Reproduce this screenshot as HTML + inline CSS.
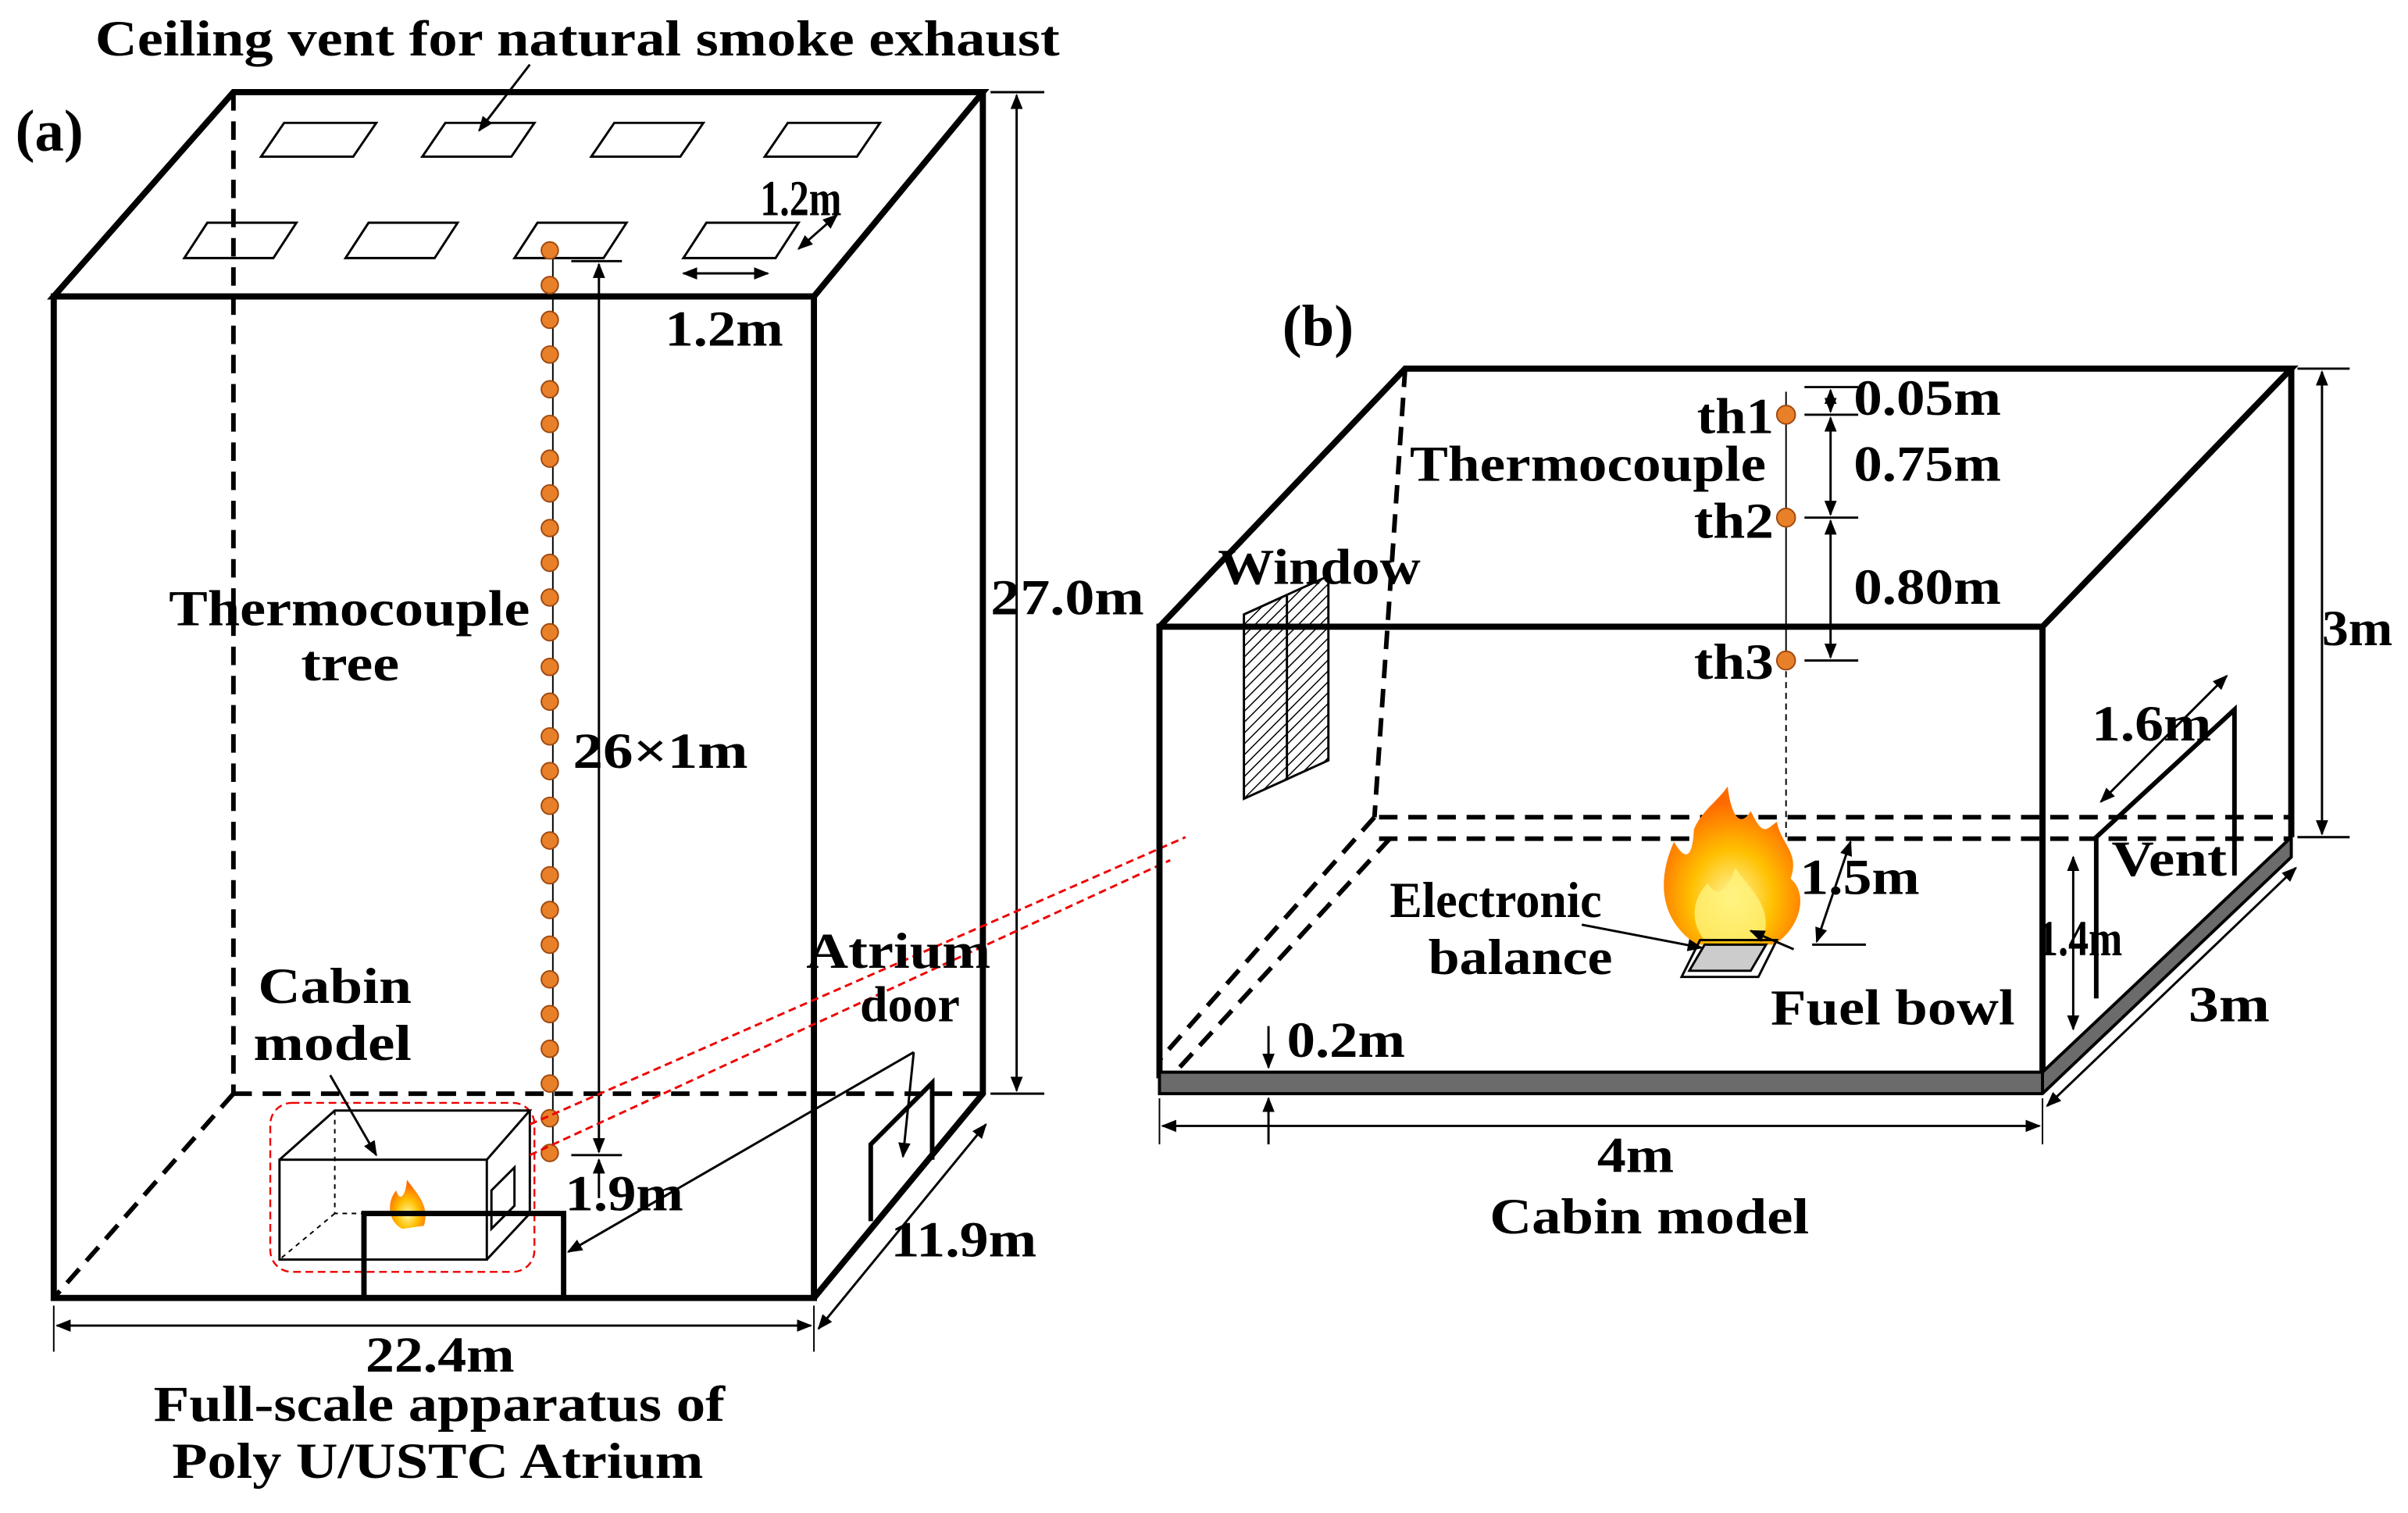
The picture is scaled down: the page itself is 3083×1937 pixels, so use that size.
<!DOCTYPE html>
<html><head><meta charset="utf-8"><style>
html,body{margin:0;padding:0;background:#fff;}
svg{display:block;}
text{font-family:"Liberation Serif",serif;font-weight:bold;fill:#000;}
</style></head><body>
<svg width="3083" height="1937" viewBox="0 0 1568 985" preserveAspectRatio="none" xmlns="http://www.w3.org/2000/svg">
<defs>
<marker id="ar" markerWidth="10" markerHeight="10" refX="9" refY="5" orient="auto-start-reverse" markerUnits="userSpaceOnUse"><path d="M0,1 L10,5 L0,9 z" fill="#000"/></marker>
<pattern id="hatch" width="5" height="5" patternUnits="userSpaceOnUse" patternTransform="rotate(45)"><line x1="0" y1="0" x2="0" y2="5" stroke="#000" stroke-width="1.5"/></pattern>
<radialGradient id="fire" cx="50%" cy="70%" r="60%"><stop offset="0" stop-color="#fff6a0"/><stop offset="0.5" stop-color="#ffc000"/><stop offset="1" stop-color="#ff6a00"/></radialGradient>
</defs>
<rect width="1568" height="985" fill="#fff"/>

<!-- (a) -->
<text x="62" y="36" font-size="33" textLength="628" lengthAdjust="spacingAndGlyphs">Ceiling vent for natural smoke exhaust</text>
<text x="10" y="98" font-size="38">(a)</text>
<line x1="345" y1="42" x2="312" y2="85" stroke="#000" stroke-width="1.5" marker-end="url(#ar)"/>
<g fill="none" stroke="#000" stroke-width="4">
<polygon points="35,193 152,60 640,60 530,193"/>
<rect x="35" y="193" width="495" height="652"/>
<polyline points="530,845 640,712 640,60"/>
</g>
<g fill="none" stroke="#000" stroke-width="3" stroke-dasharray="12,7">
<line x1="152" y1="60" x2="152" y2="712"/>
<line x1="152" y1="712" x2="640" y2="712"/>
<line x1="152" y1="712" x2="35" y2="845"/>
</g>
<g fill="none" stroke="#000" stroke-width="1.5">
<polygon points="185,80 245,80 230,102 170,102"/>
<polygon points="290,80 348,80 333,102 275,102"/>
<polygon points="400,80 458,80 443,102 385,102"/>
<polygon points="513,80 573,80 558,102 498,102"/>
<polygon points="135,145 193,145 178,168 120,168"/>
<polygon points="240,145 298,145 283,168 225,168"/>
<polygon points="350,145 408,145 393,168 335,168"/>
<polygon points="460,145 520,145 505,168 445,168"/>
</g>
<line x1="520" y1="162" x2="545" y2="140" stroke="#000" stroke-width="1.5" marker-start="url(#ar)" marker-end="url(#ar)"/>
<text x="495" y="140" font-size="33" textLength="53" lengthAdjust="spacingAndGlyphs">1.2m</text>
<line x1="445" y1="178" x2="500" y2="178" stroke="#000" stroke-width="1.5" marker-start="url(#ar)" marker-end="url(#ar)"/>
<text x="433" y="225" font-size="33" textLength="77" lengthAdjust="spacingAndGlyphs">1.2m</text>
<line x1="360" y1="165" x2="360" y2="755" stroke="#000" stroke-width="1"/>
<g fill="#e8802a" stroke="#a04a10" stroke-width="1">
<circle cx="358" cy="163" r="5.5"/><circle cx="358" cy="185.6" r="5.5"/><circle cx="358" cy="208.2" r="5.5"/><circle cx="358" cy="230.8" r="5.5"/><circle cx="358" cy="253.4" r="5.5"/><circle cx="358" cy="276" r="5.5"/><circle cx="358" cy="298.6" r="5.5"/><circle cx="358" cy="321.2" r="5.5"/><circle cx="358" cy="343.8" r="5.5"/><circle cx="358" cy="366.4" r="5.5"/><circle cx="358" cy="389" r="5.5"/><circle cx="358" cy="411.6" r="5.5"/><circle cx="358" cy="434.2" r="5.5"/><circle cx="358" cy="456.8" r="5.5"/><circle cx="358" cy="479.4" r="5.5"/><circle cx="358" cy="502" r="5.5"/><circle cx="358" cy="524.6" r="5.5"/><circle cx="358" cy="547.2" r="5.5"/><circle cx="358" cy="569.8" r="5.5"/><circle cx="358" cy="592.4" r="5.5"/><circle cx="358" cy="615" r="5.5"/><circle cx="358" cy="637.6" r="5.5"/><circle cx="358" cy="660.2" r="5.5"/><circle cx="358" cy="682.8" r="5.5"/><circle cx="358" cy="705.4" r="5.5"/><circle cx="358" cy="728" r="5.5"/><circle cx="358" cy="750.6" r="5.5"/>
</g>
<line x1="372" y1="170" x2="405" y2="170" stroke="#000" stroke-width="1.5"/>
<line x1="372" y1="752" x2="405" y2="752" stroke="#000" stroke-width="1.5"/>
<line x1="390" y1="172" x2="390" y2="750" stroke="#000" stroke-width="1.5" marker-start="url(#ar)" marker-end="url(#ar)"/>
<text x="373" y="500" font-size="33" textLength="114" lengthAdjust="spacingAndGlyphs">26×1m</text>
<text x="110" y="407" font-size="33" textLength="235" lengthAdjust="spacingAndGlyphs">Thermocouple</text>
<text x="196" y="443" font-size="33" textLength="64" lengthAdjust="spacingAndGlyphs">tree</text>
<line x1="645" y1="60" x2="680" y2="60" stroke="#000" stroke-width="1.5"/>
<line x1="645" y1="712" x2="680" y2="712" stroke="#000" stroke-width="1.5"/>
<line x1="662" y1="62" x2="662" y2="710" stroke="#000" stroke-width="1.5" marker-start="url(#ar)" marker-end="url(#ar)"/>
<text x="645" y="400" font-size="33" textLength="100" lengthAdjust="spacingAndGlyphs">27.0m</text>
<!-- small cabin -->
<rect x="176" y="718" width="172" height="110" rx="14" fill="none" stroke="#e00" stroke-width="1.2" stroke-dasharray="5,3"/>
<g fill="none" stroke="#000" stroke-width="1.5">
<rect x="182" y="755" width="135" height="65"/>
<polyline points="182,755 218,723 345,723 317,755"/>
<polyline points="345,723 345,790 317,820"/>
<polygon points="320,775 335,760 335,785 320,800"/>
</g>
<g fill="none" stroke="#000" stroke-width="1" stroke-dasharray="3,3">
<polyline points="218,723 218,790 345,790"/><line x1="218" y1="790" x2="182" y2="820"/>
</g>
<path d="M262,800 C252,795 252,782 258,775 C260,782 264,780 265,768 C272,778 280,785 276,798 Z" fill="url(#fire)"/>
<polyline points="237,845 237,790 367,790 367,845" fill="none" stroke="#000" stroke-width="3.5"/>
<text x="168" y="653" font-size="33" textLength="100" lengthAdjust="spacingAndGlyphs">Cabin</text>
<text x="165" y="690" font-size="33" textLength="103" lengthAdjust="spacingAndGlyphs">model</text>
<line x1="215" y1="700" x2="245" y2="752" stroke="#000" stroke-width="1.5" marker-end="url(#ar)"/>
<line x1="345" y1="732" x2="772" y2="545" stroke="#e00" stroke-width="1.5" stroke-dasharray="5,3"/>
<line x1="345" y1="752" x2="762" y2="560" stroke="#e00" stroke-width="1.5" stroke-dasharray="5,3"/>
<line x1="390" y1="780" x2="390" y2="755" stroke="#000" stroke-width="1.5" marker-end="url(#ar)"/>
<text x="368" y="788" font-size="33" textLength="77" lengthAdjust="spacingAndGlyphs">1.9m</text>
<line x1="370" y1="815" x2="595" y2="685" stroke="#000" stroke-width="1.5" marker-start="url(#ar)"/>
<line x1="595" y1="685" x2="588" y2="753" stroke="#000" stroke-width="1.5" marker-end="url(#ar)"/>
<polyline points="567,795 567,745 607,705 607,755" fill="none" stroke="#000" stroke-width="3"/>
<text x="525" y="630" font-size="33" textLength="120" lengthAdjust="spacingAndGlyphs">Atrium</text>
<text x="560" y="665" font-size="33" textLength="65" lengthAdjust="spacingAndGlyphs">door</text>
<line x1="35" y1="850" x2="35" y2="880" stroke="#000" stroke-width="1"/>
<line x1="530" y1="850" x2="530" y2="880" stroke="#000" stroke-width="1"/>
<line x1="37" y1="863" x2="528" y2="863" stroke="#000" stroke-width="1.5" marker-start="url(#ar)" marker-end="url(#ar)"/>
<line x1="533" y1="865" x2="642" y2="732" stroke="#000" stroke-width="1.5" marker-start="url(#ar)" marker-end="url(#ar)"/>
<text x="580" y="818" font-size="33" textLength="95" lengthAdjust="spacingAndGlyphs">11.9m</text>
<text x="238" y="893" font-size="33" textLength="97" lengthAdjust="spacingAndGlyphs">22.4m</text>
<text x="100" y="925" font-size="33" textLength="372" lengthAdjust="spacingAndGlyphs">Full-scale apparatus of</text>
<text x="112" y="962" font-size="33" textLength="346" lengthAdjust="spacingAndGlyphs">Poly U/USTC Atrium</text>

<!-- (b) -->
<text x="835" y="225" font-size="38">(b)</text>
<g fill="none" stroke="#000" stroke-width="4">
<polyline points="755,408 915,240 1492,240 1330,408"/>
<rect x="755" y="408" width="575" height="292"/>
<line x1="1492" y1="240" x2="1492" y2="545"/>
</g>
<g fill="none" stroke="#000" stroke-width="3" stroke-dasharray="12,7">
<line x1="915" y1="240" x2="895" y2="532"/>
<line x1="898" y1="532" x2="1492" y2="532"/>
<line x1="898" y1="546" x2="1492" y2="546"/>
<line x1="895" y1="532" x2="755" y2="690"/>
<line x1="905" y1="546" x2="768" y2="695"/>
</g>
<polygon points="755,698 1330,698 1492,545 1492,558 1330,712 755,712" fill="#6b6b6b" stroke="#000" stroke-width="2"/>
<line x1="1330" y1="698" x2="1330" y2="712" stroke="#000" stroke-width="2"/>
<polygon points="810,400 865,375 865,495 810,520" fill="url(#hatch)" stroke="#000" stroke-width="1.5"/>
<line x1="838" y1="388" x2="838" y2="508" stroke="#000" stroke-width="1.5"/>
<text x="793" y="380" font-size="33" textLength="132" lengthAdjust="spacingAndGlyphs">Window</text>
<line x1="1163" y1="255" x2="1163" y2="430" stroke="#000" stroke-width="1"/>
<line x1="1163" y1="430" x2="1163" y2="545" stroke="#000" stroke-width="1" stroke-dasharray="4,3"/>
<g fill="#e8802a" stroke="#a04a10" stroke-width="1"><circle cx="1163" cy="270" r="6"/><circle cx="1163" cy="337" r="6"/><circle cx="1163" cy="430" r="6"/></g>
<text x="1105" y="282" font-size="33" textLength="50" lengthAdjust="spacingAndGlyphs">th1</text>
<text x="1103" y="350" font-size="33" textLength="52" lengthAdjust="spacingAndGlyphs">th2</text>
<text x="1103" y="442" font-size="33" textLength="52" lengthAdjust="spacingAndGlyphs">th3</text>
<text x="918" y="313" font-size="33" textLength="232" lengthAdjust="spacingAndGlyphs">Thermocouple</text>
<g stroke="#000" stroke-width="1.5">
<line x1="1175" y1="252" x2="1210" y2="252"/><line x1="1175" y1="270" x2="1210" y2="270"/>
<line x1="1175" y1="337" x2="1210" y2="337"/><line x1="1175" y1="430" x2="1210" y2="430"/>
<line x1="1192" y1="254" x2="1192" y2="268" marker-start="url(#ar)" marker-end="url(#ar)"/>
<line x1="1192" y1="272" x2="1192" y2="335" marker-start="url(#ar)" marker-end="url(#ar)"/>
<line x1="1192" y1="339" x2="1192" y2="428" marker-start="url(#ar)" marker-end="url(#ar)"/>
</g>
<text x="1207" y="270" font-size="33" textLength="96" lengthAdjust="spacingAndGlyphs">0.05m</text>
<text x="1207" y="313" font-size="33" textLength="96" lengthAdjust="spacingAndGlyphs">0.75m</text>
<text x="1207" y="393" font-size="33" textLength="96" lengthAdjust="spacingAndGlyphs">0.80m</text>
<line x1="1496" y1="240" x2="1530" y2="240" stroke="#000" stroke-width="1.5"/>
<line x1="1496" y1="545" x2="1530" y2="545" stroke="#000" stroke-width="1.5"/>
<line x1="1512" y1="242" x2="1512" y2="543" stroke="#000" stroke-width="1.5" marker-start="url(#ar)" marker-end="url(#ar)"/>
<text x="1512" y="420" font-size="33" textLength="46" lengthAdjust="spacingAndGlyphs">3m</text>
<!-- fire -->
<path d="M1105,615 C1082,600 1078,575 1090,548 C1097,560 1102,560 1103,540 C1108,528 1118,522 1125,512 C1127,530 1133,540 1140,528 C1148,545 1150,540 1157,535 C1160,550 1172,555 1166,572 C1178,582 1172,605 1155,615 Z" fill="url(#fire)"/>
<path d="M1110,612 C1100,600 1102,585 1112,575 C1118,585 1125,580 1130,565 C1140,580 1155,590 1148,612 Z" fill="#fff27a" opacity="0.8"/>
<polygon points="1100,632 1140,632 1150,615 1110,615" fill="#ccc" stroke="#000" stroke-width="1.5"/>
<polygon points="1095,636 1145,636 1157,612 1107,612" fill="none" stroke="#000" stroke-width="1.5"/>
<text x="905" y="597" font-size="33" textLength="138" lengthAdjust="spacingAndGlyphs">Electronic</text>
<text x="930" y="634" font-size="33" textLength="120" lengthAdjust="spacingAndGlyphs">balance</text>
<line x1="1030" y1="602" x2="1108" y2="617" stroke="#000" stroke-width="1.5" marker-end="url(#ar)"/>
<line x1="1168" y1="618" x2="1140" y2="606" stroke="#000" stroke-width="1.5" marker-end="url(#ar)"/>
<text x="1153" y="667" font-size="33" textLength="159" lengthAdjust="spacingAndGlyphs">Fuel bowl</text>
<line x1="1180" y1="615" x2="1215" y2="615" stroke="#000" stroke-width="1.5"/>
<line x1="1183" y1="613" x2="1205" y2="548" stroke="#000" stroke-width="1.5" marker-start="url(#ar)" marker-end="url(#ar)"/>
<text x="1172" y="582" font-size="33" textLength="78" lengthAdjust="spacingAndGlyphs">1.5m</text>
<!-- vent -->
<polyline points="1365,650 1365,545 1455,462 1455,570" fill="none" stroke="#000" stroke-width="3"/>
<line x1="1368" y1="522" x2="1450" y2="440" stroke="#000" stroke-width="1.5" marker-start="url(#ar)" marker-end="url(#ar)"/>
<text x="1362" y="482" font-size="33" textLength="78" lengthAdjust="spacingAndGlyphs">1.6m</text>
<text x="1375" y="570" font-size="33" textLength="75" lengthAdjust="spacingAndGlyphs">Vent</text>
<line x1="1350" y1="558" x2="1350" y2="670" stroke="#000" stroke-width="1.5" marker-start="url(#ar)" marker-end="url(#ar)"/>
<text x="1327" y="622" font-size="33" textLength="55" lengthAdjust="spacingAndGlyphs">1.4m</text>
<line x1="1333" y1="720" x2="1495" y2="565" stroke="#000" stroke-width="1.5" marker-start="url(#ar)" marker-end="url(#ar)"/>
<text x="1425" y="665" font-size="33" textLength="53" lengthAdjust="spacingAndGlyphs">3m</text>
<line x1="826" y1="668" x2="826" y2="695" stroke="#000" stroke-width="1.5" marker-end="url(#ar)"/>
<line x1="826" y1="745" x2="826" y2="715" stroke="#000" stroke-width="1.5" marker-end="url(#ar)"/>
<text x="838" y="688" font-size="33" textLength="77" lengthAdjust="spacingAndGlyphs">0.2m</text>
<line x1="755" y1="715" x2="755" y2="745" stroke="#000" stroke-width="1"/>
<line x1="1330" y1="715" x2="1330" y2="745" stroke="#000" stroke-width="1"/>
<line x1="757" y1="733" x2="1328" y2="733" stroke="#000" stroke-width="1.5" marker-start="url(#ar)" marker-end="url(#ar)"/>
<text x="1040" y="763" font-size="33" textLength="50" lengthAdjust="spacingAndGlyphs">4m</text>
<text x="970" y="803" font-size="33" textLength="208" lengthAdjust="spacingAndGlyphs">Cabin model</text>
</svg>
</body></html>
